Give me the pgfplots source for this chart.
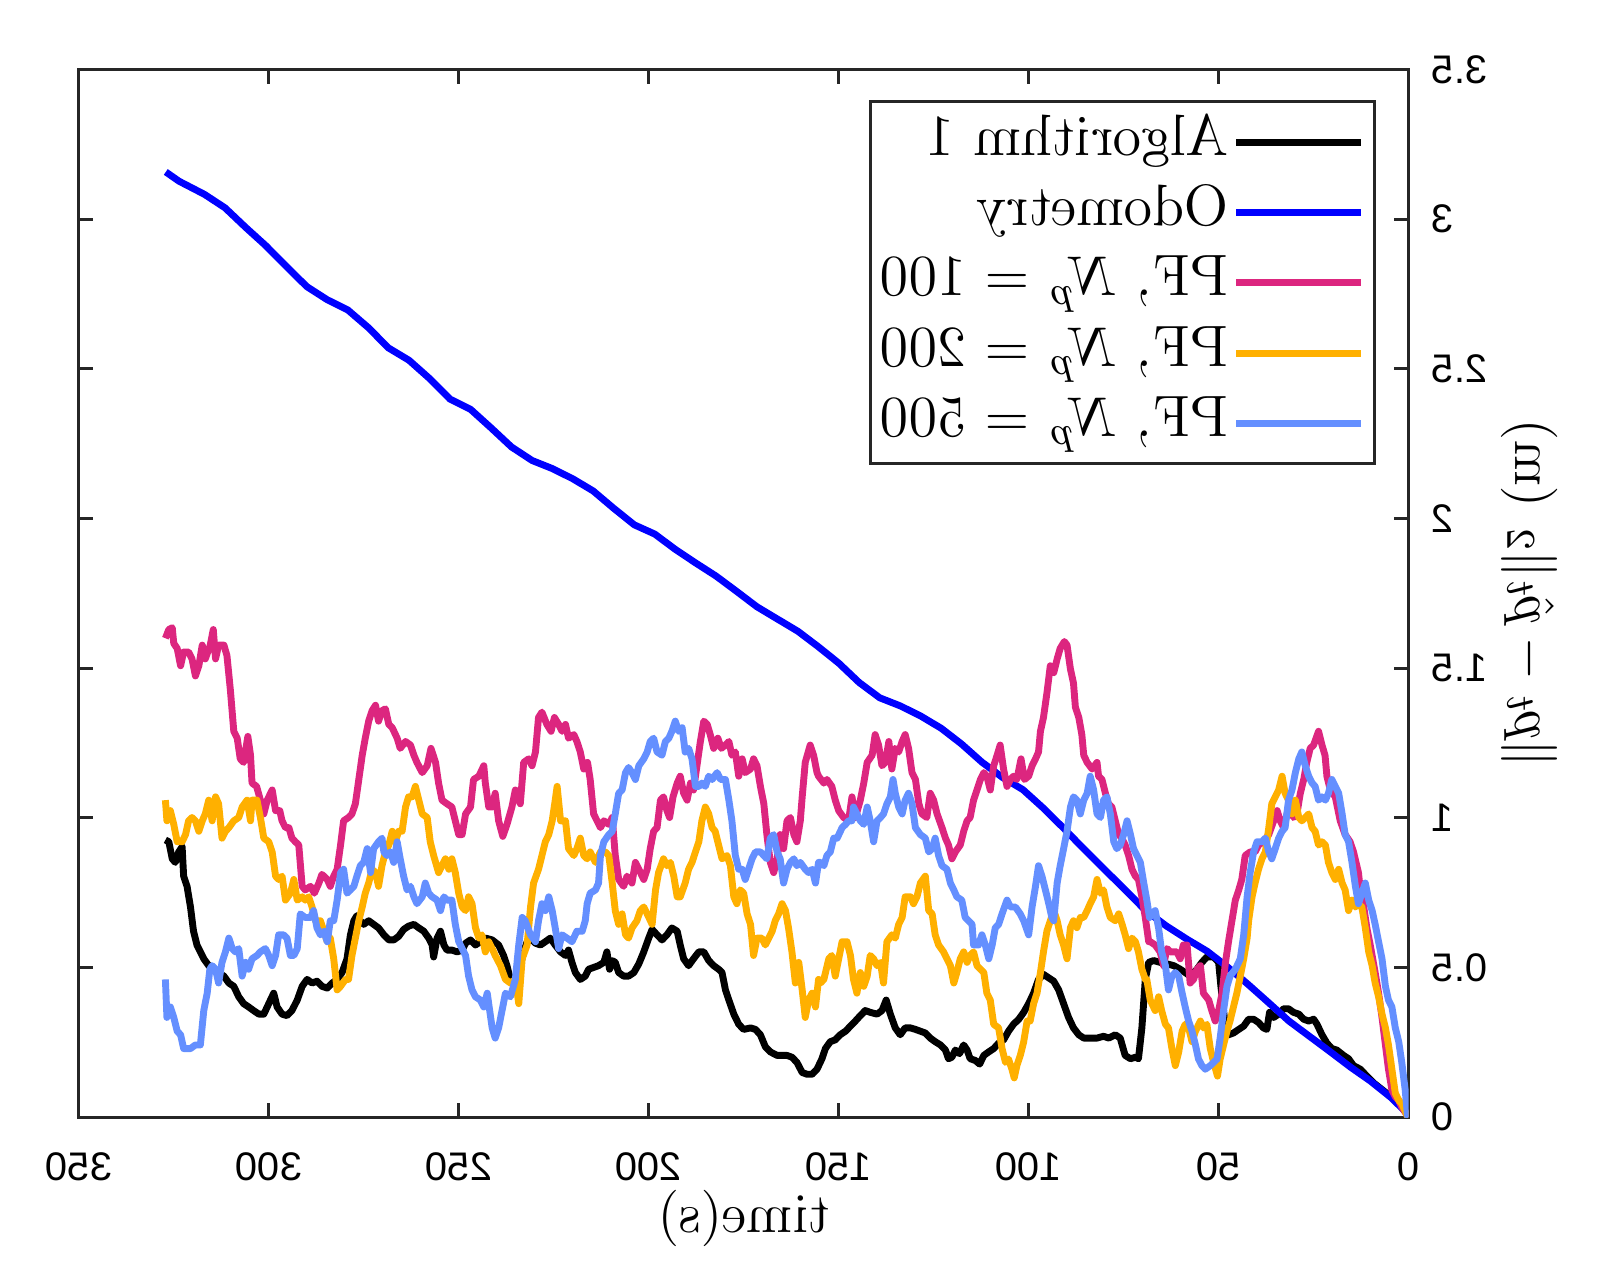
\documentclass[border=0pt]{standalone}
\usepackage{fontspec}
\usepackage{graphicx}
\usepackage{pgfplots}
\pgfplotsset{compat=1.18}
\newfontfamily\ticksf{Liberation Sans}
\definecolor{pfA}{HTML}{DC267F}
\definecolor{pfB}{HTML}{FFB000}
\definecolor{pfC}{HTML}{648FFF}
\definecolor{odo}{HTML}{0000FF}
\definecolor{frame}{HTML}{262626}
\begin{document}
\reflectbox{%
\begin{tikzpicture}
\useasboundingbox (-38.2pt,-31.8pt) rectangle (275.4pt,218.4pt);
\begin{axis}[
  at={(0pt,0pt)}, anchor=south west,
  scale only axis, width=260pt, height=204.8pt,
  xmin=0, xmax=350, ymin=0, ymax=3.5,
  xtick={0,50,...,350}, ytick={0,0.5,...,3.5},
  tick align=inside, major tick length=2.8pt,
  xtick pos=both, ytick pos=both,
  xticklabel pos=lower, yticklabel pos=left,
  axis line style={frame, line width=0.6pt},
  every tick/.style={frame, line width=0.6pt},
  /pgf/number format/assume math mode=true,
  ticklabel style={font={\ticksf\fontsize{7.8}{9}\selectfont}},
  xticklabel style={yshift=-3.4pt},
  yticklabel style={xshift=-1pt},
  xlabel={time(s)},
  ylabel={$\|p_t - \hat{p}_t\|_2$ (m)},
  label style={font=\fontsize{11}{13}\selectfont},
  xlabel style={at={(axis description cs:0.5,-0.0972)}, anchor=center},
  ylabel style={at={(axis description cs:-0.0912,0.5)}, anchor=center},
  legend cell align=left,
  legend style={at={(axis description cs:0.0246,0.9707)}, anchor=north west,
    draw=frame, line width=0.6pt, fill=white,
    font=\fontsize{11.4}{13}\selectfont,
    inner xsep=2pt, inner ysep=2.4pt, row sep=2.75pt,
    nodes={inner sep=0pt, text height=8pt, text depth=3pt},
    /tikz/every odd column/.append style={column sep=0.7pt}},
  legend image code/.code={\draw[#1] (0pt,0pt) -- (24.4pt,0pt);},
]

% Algorithm 1
\addplot[black, line width=1.35pt, line join=round] coordinates {
(327.2,0.926)(326.3,0.920)(325.4,0.863)(324.6,0.851)(323.7,0.886)(322.8,0.903)(322.4,0.805)(321.5,0.771)(320.6,0.702)(319.8,0.621)(318.9,0.575)(318.0,0.552)(317.1,0.529)(315.8,0.506)(314.5,0.494)(313.2,0.483)(311.8,0.471)(310.5,0.448)(309.2,0.437)(307.9,0.402)(306.6,0.379)(305.3,0.368)(304.0,0.356)(302.6,0.344)(301.3,0.344)(300.0,0.379)(298.7,0.414)(297.8,0.368)(296.5,0.344)(295.2,0.339)(293.9,0.356)(292.5,0.391)(291.2,0.437)(289.9,0.460)(288.6,0.448)(287.3,0.454)(286.0,0.437)(284.6,0.431)(283.3,0.448)(282.0,0.460)(280.7,0.483)(279.4,0.529)(278.5,0.609)(277.6,0.656)(276.8,0.673)(275.9,0.656)(275.0,0.644)(273.7,0.656)(272.4,0.644)(271.1,0.632)(269.7,0.609)(268.4,0.592)(267.1,0.592)(265.8,0.604)(264.5,0.627)(263.2,0.638)(261.8,0.644)(260.5,0.632)(259.2,0.621)(257.9,0.598)(257.0,0.575)(256.6,0.535)(255.7,0.598)(254.8,0.621)(253.9,0.575)(253.1,0.558)(251.8,0.558)(250.4,0.552)(249.1,0.558)(248.2,0.581)(246.9,0.592)(245.6,0.575)
(242.9,0.598)(241.2,0.592)(239.5,0.575)(238.2,0.540)(237.3,0.506)(236.4,0.460)(235.5,0.448)(234.6,0.471)(233.8,0.506)(232.9,0.552)(232.0,0.586)(231.1,0.598)(229.8,0.581)(228.5,0.575)(227.2,0.586)(225.9,0.598)(224.6,0.575)(223.2,0.552)(221.9,0.540)(221.1,0.558)(220.2,0.517)(219.3,0.483)(218.0,0.460)(216.7,0.471)(215.8,0.494)(214.5,0.500)(213.2,0.506)(211.8,0.517)(211.0,0.552)(210.3,0.494)(209.6,0.523)(208.8,0.517)(207.9,0.483)(206.6,0.471)(205.3,0.471)(203.9,0.483)(202.6,0.512)(201.3,0.552)(200.0,0.598)(199.1,0.627)(197.8,0.609)(196.5,0.592)(195.2,0.609)(193.9,0.632)(192.5,0.621)(191.7,0.575)(190.8,0.529)(189.5,0.506)(188.2,0.529)(186.8,0.552)(185.5,0.552)(184.2,0.523)(182.9,0.506)(181.6,0.494)(180.7,0.483)(179.8,0.425)(178.9,0.391)(177.6,0.344)(176.3,0.310)(175.0,0.293)(173.2,0.298)(171.9,0.293)(170.6,0.275)(169.3,0.235)(168.0,0.218)(166.2,0.206)(164.9,0.206)(163.6,0.206)(162.3,0.200)(161.0,0.183)(159.6,0.149)(158.3,0.143)(157.0,0.143)(155.7,0.160)
(154.4,0.195)(153.5,0.229)(152.2,0.252)(150.9,0.258)(149.6,0.275)(148.2,0.287)(146.9,0.304)(145.6,0.321)(144.3,0.339)(143.0,0.356)(141.7,0.350)(139.9,0.344)(138.6,0.356)(137.5,0.391)(136.4,0.344)(135.1,0.298)(133.8,0.275)(132.5,0.298)(131.1,0.298)(129.8,0.293)(128.5,0.287)(127.2,0.281)(125.9,0.264)(124.6,0.252)(123.2,0.241)(121.9,0.224)(121.1,0.195)(120.2,0.200)(119.3,0.224)(118.2,0.212)(117.1,0.241)(116.2,0.224)(115.4,0.195)(114.0,0.189)(112.9,0.177)(111.8,0.206)(110.5,0.218)(109.2,0.229)(107.9,0.247)(106.6,0.258)(105.3,0.287)(104.0,0.310)(102.6,0.327)(101.3,0.350)(100.0,0.379)(98.7,0.414)(97.4,0.460)(96.1,0.477)(94.7,0.465)(93.4,0.454)(92.1,0.425)(90.8,0.379)(89.5,0.333)(88.2,0.298)(86.8,0.275)(85.5,0.264)(83.8,0.264)(82.0,0.264)(80.3,0.270)(78.9,0.264)(77.2,0.275)(75.9,0.264)(74.6,0.206)(73.2,0.195)(71.9,0.200)(71.1,0.195)
(70.2,0.298)(69.3,0.460)(68.4,0.517)(67.1,0.523)(65.4,0.517)(63.6,0.512)(61.8,0.506)(60.1,0.494)(58.8,0.483)(57.5,0.471)(55.7,0.494)(54.4,0.517)(53.1,0.535)(51.3,0.535)(50.0,0.517)(49.4,0.437)(48.5,0.333)(47.4,0.275)(46.1,0.281)(44.7,0.293)(43.4,0.304)(42.1,0.327)(40.8,0.327)(39.5,0.316)(38.2,0.298)(37.3,0.293)(36.6,0.350)(35.5,0.333)(34.2,0.344)(32.9,0.362)(31.6,0.362)(30.3,0.350)(28.9,0.344)(27.6,0.327)(26.3,0.321)(25.0,0.327)(24.1,0.310)(22.8,0.275)(21.5,0.247)(20.2,0.229)(18.9,0.224)(17.1,0.206)(15.8,0.195)(14.5,0.172)(12.7,0.160)(11.0,0.137)(9.2,0.114)(7.5,0.097)(5.7,0.079)(3.9,0.062)(2.2,0.045)(0.4,0.010)(0,0)
};
\addlegendentry{Algorithm 1}

% Odometry
\addplot[odo, line width=1.35pt, line join=round] coordinates {
(327.1,3.158)(323.6,3.127)(316.9,3.083)(311.5,3.038)(306.1,2.973)(300.8,2.912)(295.4,2.843)(290.0,2.775)(284.6,2.731)(279.2,2.697)(273.8,2.638)(268.5,2.570)(263.1,2.529)(257.7,2.468)(252.3,2.399)(246.9,2.365)(241.5,2.303)(236.1,2.239)(230.7,2.194)(225.4,2.167)(220.0,2.133)(214.6,2.092)(209.2,2.034)(203.8,1.979)(198.4,1.948)(193.0,1.897)(187.7,1.852)(182.3,1.808)(176.9,1.757)(171.5,1.705)(166.1,1.664)(160.7,1.623)(155.4,1.572)(150.0,1.517)(144.6,1.452)(139.2,1.401)(133.8,1.374)(128.4,1.340)(123.0,1.299)(117.7,1.247)(112.3,1.186)(106.9,1.135)(101.5,1.094)(96.1,1.032)(90.7,0.964)(85.4,0.895)(80.0,0.827)(74.6,0.759)(69.2,0.690)(63.8,0.639)(58.4,0.595)(53.0,0.554)(47.7,0.502)(42.3,0.444)(36.9,0.383)(31.5,0.321)(26.1,0.270)(20.7,0.219)(15.3,0.167)(10.0,0.120)(4.6,0.065)(0.5,0.014)(0,0)
};
\addlegendentry{Odometry}

% PF, 100 particles
\addplot[pfA, line width=1.35pt, line join=round] coordinates {
(327.2,1.600)(326.3,1.629)(325.4,1.635)(325.0,1.583)(324.1,1.566)(323.2,1.508)(322.4,1.554)(321.1,1.554)(320.2,1.531)(319.3,1.474)(318.4,1.508)(317.5,1.577)(316.7,1.531)(315.4,1.577)(314.6,1.629)(314.0,1.531)(313.2,1.577)(311.8,1.577)(311.0,1.542)(310.1,1.427)(309.2,1.289)(308.3,1.266)(307.5,1.197)(306.6,1.185)(305.5,1.272)(304.8,1.209)(304.4,1.116)(303.2,1.105)(302.2,1.059)(301.3,1.013)(300.4,1.059)(299.1,1.093)(298.2,1.024)(297.1,1.024)(296.5,0.990)(295.6,0.967)(294.7,0.967)(293.9,0.932)(293.0,0.920)(292.1,0.909)(291.2,0.771)(290.4,0.759)(289.0,0.771)(288.0,0.748)(286.8,0.782)(286.0,0.811)(284.6,0.794)(283.8,0.771)(282.9,0.805)(282.0,0.828)(281.1,0.909)(280.3,0.990)(279.0,1.001)(278.1,1.013)(277.2,1.047)(276.3,1.128)(275.4,1.209)(274.6,1.266)(273.7,1.323)(272.8,1.358)(271.9,1.376)(271.1,1.323)(270.2,1.358)(269.3,1.364)(268.4,1.312)(267.5,1.301)(266.2,1.266)(265.4,1.232)(264.0,1.255)(262.7,1.243)(261.8,1.209)(261.0,1.185)(259.6,1.151)(258.3,1.174)(257.3,1.232)(256.1,1.185)(255.3,1.116)(254.4,1.059)(253.1,1.047)(251.8,1.036)(250.9,0.990)(250.0,0.944)(249.1,0.944)(248.2,1.013)(246.9,1.036)(246.1,1.128)(244.7,1.139)(243.4,1.174)(243.0,1.116)(242.1,1.036)
(241.2,1.036)(240.4,1.082)(239.5,0.990)(238.4,0.938)(237.3,0.978)(236.0,1.036)(235.1,1.093)(233.8,1.047)(232.9,1.185)(231.6,1.197)(230.7,1.174)(229.8,1.220)(229.0,1.335)(228.1,1.353)(226.8,1.312)(225.7,1.289)(224.8,1.335)(223.7,1.312)(222.8,1.289)(221.9,1.312)(221.1,1.266)(219.7,1.278)(218.9,1.255)(218.0,1.220)(217.1,1.163)(216.1,1.185)(215.4,1.128)(214.5,1.013)(213.6,0.990)(212.7,0.967)(211.8,0.990)(210.5,0.978)(209.6,1.001)(208.8,0.874)(207.9,0.794)(206.6,0.771)(205.7,0.805)(204.4,0.782)(203.5,0.851)(202.6,0.828)(201.3,0.794)(200.4,0.828)(199.6,0.897)(198.7,0.955)(197.8,0.967)(196.9,1.059)(196.1,1.070)(195.2,1.024)(194.5,1.001)(193.6,1.070)(192.5,1.116)(191.7,1.139)(190.8,1.082)(189.9,1.059)(189.0,1.116)(188.2,1.093)(187.3,1.174)(186.4,1.255)(185.5,1.323)(184.6,1.312)(183.8,1.278)(182.9,1.232)(181.8,1.266)(180.9,1.232)(179.8,1.243)(178.9,1.255)(178.1,1.209)(177.2,1.220)(176.3,1.139)(175.4,1.197)(174.6,1.151)(173.2,1.163)(172.4,1.197)(171.5,1.174)(170.6,1.105)(169.7,1.047)(168.9,0.944)(168.0,0.851)(167.1,0.817)(166.2,0.863)(165.4,0.944)(164.5,0.897)(163.6,0.990)(162.7,1.001)(161.8,0.944)(161.0,0.920)(160.1,0.990)(159.6,1.070)(158.8,1.185)(157.5,1.243)(156.6,1.209)(155.7,1.151)
(155.3,1.139)(153.9,1.116)(153.1,1.128)(151.8,1.105)(150.9,1.059)(150.0,1.024)(148.7,1.001)(147.4,0.990)(146.5,1.070)(145.6,1.001)(144.3,1.059)(143.4,1.116)(142.5,1.185)(141.2,1.209)(140.4,1.278)(139.5,1.243)(138.6,1.174)(137.7,1.185)(136.8,1.255)(136.0,1.163)(135.1,1.232)(134.2,1.220)(133.3,1.255)(132.5,1.278)(131.6,1.232)(130.7,1.151)(129.8,1.128)(128.9,1.047)(128.1,1.013)(126.8,1.001)(125.9,1.082)(125.0,1.059)(124.1,1.013)(122.8,0.967)(121.9,0.932)(121.1,0.909)(120.2,0.863)(119.3,0.886)(118.0,0.909)(117.1,0.955)(116.2,0.990)(115.4,1.001)(114.5,1.059)(113.6,1.093)(112.7,1.128)(111.8,1.151)(111.0,1.139)(110.1,1.093)(109.2,1.174)(108.3,1.209)(107.5,1.243)(106.6,1.163)(105.7,1.105)(104.8,1.128)(104.0,1.139)(103.1,1.128)(102.0,1.197)(101.1,1.128)(100.0,1.139)(99.1,1.174)(98.2,1.197)(97.4,1.220)(96.9,1.289)(96.1,1.335)(95.2,1.416)(94.3,1.508)(93.4,1.485)(92.5,1.531)(91.7,1.566)(90.6,1.589)(89.9,1.577)(89.0,1.497)(88.2,1.450)(87.7,1.370)(86.8,1.335)(86.0,1.278)(85.5,1.209)(84.6,1.185)(83.3,1.163)(82.0,1.185)(81.6,1.139)(80.7,1.128)(79.8,1.082)(79.0,1.047)(78.1,1.036)(77.2,0.990)(76.3,0.944)(75.5,0.932)(74.6,0.909)(73.7,0.874)(72.8,0.828)(71.9,0.805)(71.1,0.794)(70.2,0.736)(69.3,0.667)(68.4,0.586)
(68.0,0.586)(66.7,0.575)(65.4,0.552)(64.5,0.506)(63.6,0.563)(62.7,0.552)(61.9,0.552)(61.0,0.552)(60.1,0.529)(59.3,0.575)(58.3,0.575)(57.5,0.448)(56.6,0.460)(55.7,0.494)(54.8,0.506)(54.0,0.414)(52.6,0.391)(51.8,0.356)(50.9,0.321)(50.0,0.356)(49.1,0.414)(48.2,0.517)(47.4,0.586)(46.5,0.656)(45.6,0.725)(44.7,0.759)(43.9,0.794)(43.0,0.874)(41.7,0.886)(40.4,0.886)(39.5,0.909)(38.2,0.920)(36.8,0.944)(35.5,0.990)(34.6,1.024)(33.8,0.990)(32.9,0.967)(32.0,1.013)(31.1,1.059)(30.3,1.001)(29.4,1.013)(28.5,1.082)(27.6,1.128)(26.8,1.185)(25.9,1.232)(25.0,1.243)(23.7,1.289)(22.8,1.243)(22.0,1.209)(21.5,1.139)(20.6,1.093)(19.3,1.070)(18.0,0.990)(16.7,0.944)(15.4,0.920)(14.5,0.886)(13.2,0.817)(12.7,0.759)(11.8,0.702)(11.0,0.633)(10.1,0.575)(8.8,0.483)(7.9,0.414)(7.0,0.333)(6.1,0.241)(5.3,0.160)(4.4,0.091)(3.5,0.068)(2.6,0.056)(1.8,0.033)(0.9,0.016)(0,0)
};
\addlegendentry{PF, $N_p$\ = 100}

% PF, 200 particles
\addplot[pfB, line width=1.35pt, line join=round] coordinates {
(327.2,1.059)(326.8,0.990)(325.9,1.024)(325.0,0.978)(324.1,0.920)(322.8,0.920)(321.9,0.944)(321.1,0.990)(320.2,1.001)(319.3,0.990)(318.4,0.955)(317.5,0.990)(316.7,1.013)(315.8,1.059)(314.9,0.990)(314.0,1.070)(313.2,1.047)(312.3,0.932)(311.4,0.955)(310.5,0.967)(309.2,0.990)(307.9,1.001)(307.0,1.036)(305.7,1.059)(304.8,0.990)(304.4,1.059)(303.1,1.059)(302.2,1.001)(301.3,0.932)(300.0,0.920)(299.1,0.886)(298.2,0.805)(297.4,0.794)(296.5,0.805)(295.6,0.725)(294.3,0.748)(293.4,0.794)(292.5,0.725)(291.2,0.736)(290.4,0.725)(289.5,0.736)(288.6,0.702)(287.7,0.656)(286.4,0.656)(285.5,0.621)(284.6,0.586)(283.8,0.598)(282.9,0.529)(282.0,0.425)(281.1,0.437)(279.8,0.460)(279.0,0.460)(278.1,0.540)(277.2,0.598)(276.3,0.656)(275.4,0.702)(274.6,0.748)(273.7,0.782)(272.8,0.828)(271.9,0.817)(271.1,0.771)(270.2,0.840)(269.3,0.886)(268.4,0.909)(267.5,0.955)(266.7,0.920)(265.8,0.955)(264.9,0.955)(264.0,1.036)(263.2,1.070)(262.3,1.070)(261.4,1.105)(260.5,1.059)(259.6,1.013)(258.3,1.001)(257.5,0.920)(256.6,0.874)(255.3,0.817)(254.4,0.840)(253.5,0.863)(252.6,0.828)(251.8,0.863)(250.9,0.817)(250.0,0.748)(249.1,0.702)(248.2,0.690)(247.4,0.736)(246.5,0.713)(245.6,0.633)(244.7,0.598)(243.9,0.609)(243.0,0.552)(242.1,0.586)
(241.2,0.563)(240.4,0.540)(239.0,0.506)(237.7,0.460)(236.4,0.448)(235.1,0.460)(234.2,0.379)(233.3,0.529)(232.0,0.575)(231.1,0.702)(230.3,0.782)(229.0,0.828)(228.1,0.874)(227.2,0.920)(226.3,0.944)(225.4,0.990)(224.6,1.059)(224.1,1.105)(223.2,0.990)(221.9,0.990)(221.1,0.897)(219.7,0.874)(218.9,0.897)(218.0,0.932)(217.1,0.874)(216.2,0.863)(215.4,0.886)(214.0,0.851)(212.7,0.886)(211.4,0.886)(210.5,0.874)(209.6,0.782)(208.8,0.690)(207.9,0.644)(207.0,0.679)(206.1,0.609)(205.3,0.598)(204.4,0.632)(203.1,0.656)(202.2,0.690)(201.3,0.702)(200.4,0.679)(199.1,0.644)(198.2,0.759)(197.4,0.817)(196.1,0.863)(195.2,0.840)(194.3,0.851)(193.4,0.805)(192.5,0.736)(191.7,0.736)(190.4,0.782)(189.5,0.828)(188.6,0.851)(187.7,0.886)(186.8,0.920)(186.0,0.990)(185.1,1.036)(184.2,1.013)(183.3,0.967)(182.5,0.955)(181.6,0.909)(180.7,0.863)(179.4,0.874)(178.5,0.840)(177.6,0.736)(176.8,0.713)(175.9,0.759)(175.0,0.748)(174.1,0.679)(173.2,0.644)(172.4,0.540)(171.5,0.598)(170.2,0.598)(169.3,0.575)(168.4,0.598)(167.5,0.621)(166.7,0.656)(165.8,0.679)(164.9,0.713)(164.0,0.690)(163.2,0.632)(162.3,0.552)(161.4,0.448)(160.5,0.517)(159.6,0.425)(158.8,0.333)(157.9,0.391)(157.0,0.414)(156.1,0.368)(155.3,0.460)
(154.8,0.448)(153.9,0.460)(152.6,0.529)(151.8,0.540)(150.9,0.471)(150.0,0.529)(149.1,0.586)(147.8,0.586)(146.9,0.540)(146.1,0.460)(145.2,0.414)(144.3,0.483)(143.4,0.437)(142.5,0.471)(141.7,0.540)(140.8,0.529)(139.9,0.506)(139.0,0.517)(138.2,0.448)(137.3,0.586)(136.0,0.609)(135.1,0.598)(134.2,0.644)(133.3,0.667)(132.5,0.736)(131.1,0.736)(130.3,0.713)(129.4,0.736)(128.5,0.782)(127.2,0.805)(126.3,0.690)(125.4,0.679)(124.6,0.609)(123.7,0.575)(122.4,0.552)(121.5,0.529)(120.6,0.506)(119.7,0.448)(118.9,0.483)(118.0,0.529)(117.1,0.552)(116.2,0.517)(115.4,0.540)(114.5,0.552)(113.6,0.506)(112.7,0.494)(111.8,0.483)(111.0,0.414)(110.1,0.391)(109.2,0.310)(107.9,0.298)(107.0,0.229)(106.1,0.183)(105.3,0.194)(104.4,0.160)(103.8,0.131)(103.1,0.172)(102.2,0.206)(101.3,0.252)(100.4,0.321)(99.6,0.321)(98.7,0.379)(97.8,0.414)(96.9,0.483)(96.1,0.552)(95.2,0.621)(94.3,0.656)(93.4,0.690)(92.5,0.656)(91.7,0.609)(90.8,0.575)(89.9,0.529)(89.0,0.633)(88.2,0.656)(87.3,0.633)(86.4,0.667)(85.5,0.667)(84.6,0.690)(83.8,0.713)(82.9,0.736)(82.0,0.794)(81.1,0.748)(80.3,0.759)(79.4,0.702)(78.5,0.667)(77.2,0.656)(76.3,0.679)(75.4,0.644)(74.6,0.609)(73.7,0.563)(72.8,0.598)(71.9,0.586)(71.1,0.552)(70.2,0.494)(69.3,0.460)
(68.9,0.460)(68.0,0.391)(66.7,0.356)(65.8,0.402)(65.0,0.356)(64.0,0.310)(63.2,0.298)(62.3,0.229)(61.4,0.172)(60.5,0.218)(59.6,0.287)(58.8,0.310)(57.9,0.298)(57.0,0.252)(56.1,0.287)(54.8,0.321)(54.0,0.298)(53.1,0.310)(52.2,0.229)(51.3,0.183)(50.3,0.137)(49.6,0.194)(48.7,0.241)(47.8,0.287)(47.0,0.321)(46.1,0.368)(45.2,0.414)(44.3,0.471)(43.4,0.529)(42.5,0.598)(42.1,0.656)(41.2,0.736)(40.4,0.782)(39.5,0.828)(38.6,0.863)(37.7,0.886)(36.8,0.967)(36.0,1.047)(35.1,1.070)(34.2,1.093)(33.3,1.139)(32.5,1.082)(31.6,1.059)(30.7,1.013)(29.8,1.059)(28.9,1.001)(28.1,0.990)(27.2,1.001)(26.3,1.013)(25.4,0.967)(24.6,0.955)(23.7,0.909)(22.8,0.920)(21.9,0.909)(21.1,0.851)(20.2,0.817)(19.3,0.794)(18.4,0.828)(17.5,0.782)(16.7,0.759)(15.8,0.690)(14.9,0.725)(14.0,0.702)(13.2,0.713)(12.3,0.702)(11.4,0.633)(10.5,0.552)(9.6,0.506)(8.8,0.448)(7.9,0.402)(7.0,0.344)(6.1,0.298)(5.3,0.241)(4.4,0.160)(3.5,0.080)(2.6,0.056)(1.8,0.045)(0.4,0.005)(0,0)
};
\addlegendentry{PF, $N_p$\ = 200}

% PF, 500 particles
\addplot[pfC, line width=1.35pt, line join=round] coordinates {
(327.2,0.460)(326.8,0.333)(325.9,0.368)(325.0,0.333)(324.1,0.287)(323.2,0.275)(322.4,0.229)(321.5,0.229)(320.6,0.229)(319.3,0.241)(318.0,0.241)(317.1,0.356)(316.2,0.414)(315.5,0.494)(314.9,0.506)(314.0,0.494)(313.2,0.448)(312.3,0.517)(311.4,0.552)(310.5,0.598)(309.6,0.563)(308.8,0.552)(307.9,0.563)(307.0,0.471)(306.1,0.517)(305.3,0.494)(304.4,0.529)(303.1,0.540)(302.2,0.552)(300.9,0.563)(300.0,0.540)(299.1,0.506)(298.2,0.540)(297.4,0.609)(296.1,0.609)(295.2,0.598)(294.3,0.540)(293.4,0.540)(292.5,0.563)(291.7,0.679)(290.4,0.667)(289.0,0.667)(288.2,0.690)(287.3,0.632)(286.4,0.609)(285.5,0.621)(284.6,0.586)(283.8,0.656)(282.9,0.656)(282.0,0.725)(281.1,0.817)(280.3,0.828)(279.4,0.748)(278.5,0.759)(277.6,0.771)(276.8,0.805)(275.9,0.840)(275.0,0.851)(274.1,0.897)(273.2,0.817)(272.4,0.897)(271.1,0.920)(270.2,0.932)(269.7,0.886)(268.9,0.874)(268.0,0.886)(267.1,0.851)(266.2,0.920)(265.4,0.863)(264.5,0.805)(263.6,0.759)(262.7,0.771)(261.8,0.736)(261.0,0.713)(259.6,0.736)(258.8,0.782)(257.9,0.748)(257.0,0.736)(255.7,0.725)(254.8,0.690)(253.9,0.736)(253.1,0.725)(251.8,0.725)(250.9,0.644)(250.0,0.586)(249.1,0.563)(248.2,0.540)(247.4,0.471)(246.5,0.425)(245.6,0.402)(244.3,0.391)(243.4,0.368)(242.5,0.414)
(241.2,0.298)(240.4,0.264)(239.5,0.298)(238.6,0.356)(237.7,0.414)(236.4,0.402)(235.1,0.460)(234.2,0.575)(233.3,0.667)(232.5,0.656)(231.1,0.609)(229.8,0.586)(229.0,0.656)(228.1,0.713)(227.2,0.690)(226.3,0.736)(225.4,0.690)(224.6,0.632)(223.7,0.563)(222.8,0.609)(221.5,0.598)(220.2,0.586)(218.9,0.621)(217.5,0.621)(216.7,0.656)(216.2,0.713)(215.4,0.748)(214.0,0.759)(213.2,0.782)(212.7,0.874)(211.8,0.920)(210.5,0.944)(209.6,0.955)(208.8,1.013)(207.9,1.082)(207.0,1.093)(206.1,1.151)(205.3,1.168)(204.4,1.151)(203.5,1.128)(202.6,1.174)(201.3,1.197)(200.4,1.220)(199.6,1.255)(198.7,1.266)(197.8,1.220)(196.5,1.209)(195.6,1.255)(194.7,1.266)(193.9,1.289)(193.0,1.323)(192.1,1.289)(191.2,1.301)(190.4,1.220)(189.5,1.232)(188.6,1.197)(187.7,1.105)(186.8,1.105)(186.0,1.116)(185.1,1.105)(184.2,1.139)(183.3,1.128)(182.0,1.151)(181.1,1.128)(179.8,1.128)(178.9,1.059)(178.1,0.990)(177.2,0.874)(176.3,0.828)(175.4,0.828)(174.6,0.794)(173.7,0.828)(172.8,0.863)(171.9,0.886)(170.6,0.886)(169.7,0.874)(168.9,0.863)(168.0,0.932)(167.1,0.944)(166.2,0.886)(165.4,0.863)(164.5,0.782)(163.6,0.828)(162.7,0.851)(161.8,0.863)(161.0,0.840)(160.1,0.851)(158.8,0.828)(157.9,0.817)(157.0,0.828)(156.1,0.782)(155.3,0.851)
(154.8,0.851)(153.9,0.840)(153.1,0.874)(152.2,0.886)(151.3,0.932)(150.4,0.932)(149.1,0.967)(148.2,0.978)(147.4,0.990)(146.5,0.990)(146.1,1.036)(145.2,1.013)(144.3,0.990)(143.4,0.978)(142.5,1.036)(141.7,0.990)(140.8,0.920)(139.9,0.990)(139.0,1.001)(138.2,1.013)(137.3,1.047)(136.4,1.070)(135.7,1.128)(135.1,1.082)(134.2,1.036)(133.3,1.013)(132.5,1.059)(131.6,1.082)(130.7,1.047)(129.8,0.967)(128.5,0.944)(127.2,0.932)(126.3,0.886)(125.4,0.897)(124.6,0.932)(123.7,0.874)(122.8,0.840)(121.5,0.828)(120.6,0.782)(119.7,0.759)(118.9,0.736)(117.6,0.725)(116.7,0.667)(115.8,0.656)(114.9,0.644)(114.5,0.575)(113.2,0.575)(112.3,0.609)(111.4,0.575)(110.5,0.529)(109.6,0.575)(108.8,0.632)(107.9,0.644)(107.0,0.679)(105.7,0.725)(104.8,0.702)(103.5,0.702)(102.2,0.679)(101.3,0.656)(100.0,0.609)(99.1,0.702)(98.2,0.771)(97.4,0.840)(96.5,0.805)(95.6,0.759)(94.7,0.713)(93.9,0.667)(93.4,0.656)(92.5,0.782)(91.7,0.840)(90.8,0.897)(89.9,0.955)(89.0,1.036)(88.2,1.070)(87.3,1.059)(86.4,1.013)(85.5,1.059)(84.6,1.082)(83.8,1.139)(82.9,1.093)(82.0,1.013)(81.1,1.001)(80.3,1.059)(79.4,1.070)(78.5,1.013)(77.6,0.920)(76.8,0.897)(75.9,0.909)(75.0,0.944)(74.1,0.990)(73.2,0.944)(72.4,0.897)(71.5,0.874)(70.6,0.851)(69.7,0.782)(68.9,0.725)(68.2,0.667)
(66.7,0.690)(65.8,0.632)(65.0,0.552)(64.0,0.506)(63.2,0.425)(62.3,0.471)(61.4,0.483)(60.5,0.471)(59.6,0.414)(58.8,0.368)(57.9,0.321)(57.0,0.287)(56.1,0.241)(55.3,0.194)(54.4,0.172)(53.5,0.160)(52.2,0.172)(51.3,0.183)(50.4,0.194)(49.6,0.264)(48.7,0.356)(47.8,0.437)(47.0,0.471)(45.6,0.494)(44.3,0.529)(43.4,0.609)(42.5,0.736)(41.7,0.817)(40.8,0.886)(39.9,0.920)(38.6,0.920)(37.7,0.932)(36.8,0.886)(36.0,0.863)(35.1,0.897)(34.2,0.932)(33.3,0.955)(32.5,0.967)(31.6,1.059)(30.7,1.093)(29.8,1.151)(28.9,1.197)(28.1,1.220)(27.2,1.174)(26.3,1.139)(25.4,1.116)(24.6,1.105)(23.7,1.059)(22.8,1.070)(21.9,1.059)(21.1,1.082)(20.2,1.128)(19.3,1.105)(18.4,1.082)(17.5,1.013)(16.7,0.944)(15.8,0.920)(14.9,0.851)(14.0,0.771)(13.2,0.713)(12.3,0.748)(11.4,0.782)(10.5,0.725)(9.6,0.690)(8.8,0.644)(7.9,0.586)(7.0,0.529)(6.1,0.437)(5.3,0.391)(4.4,0.368)(3.5,0.298)(2.6,0.252)(1.8,0.183)(0.9,0.091)(0.3,0.005)(0,0)
};
\addlegendentry{PF, $N_p$\ = 500}

\end{axis}
\end{tikzpicture}}
\end{document}
